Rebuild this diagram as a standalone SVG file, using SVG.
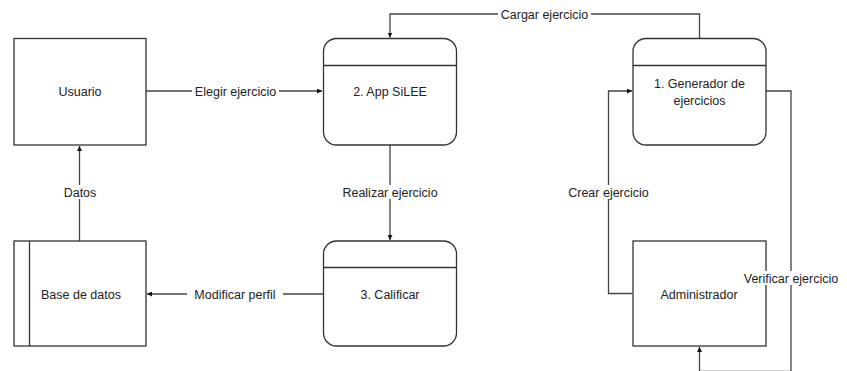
<svg xmlns="http://www.w3.org/2000/svg" width="847" height="371" viewBox="0 0 847 371">
<style>
.box{fill:#fff;stroke:#333;stroke-width:1.3}
.ln{fill:none;stroke:#444;stroke-width:1.3}
.t{font-family:"Liberation Sans",Arial,sans-serif;font-size:12.5px;fill:#222;text-anchor:middle}
.lb{font-family:"Liberation Sans",Arial,sans-serif;font-size:12.5px;fill:#222;text-anchor:middle}
.bg{fill:#fff}
</style>
<defs>
<marker id="ar" viewBox="0 0 10 10" refX="10" refY="5" markerWidth="5" markerHeight="5" markerUnits="userSpaceOnUse" orient="auto">
<path d="M0,0 L10,5 L0,10 z" fill="#111"/>
</marker>
</defs>
<rect width="847" height="371" fill="#fff"/>
<g id="connectors">
<path class="ln" d="M146,91 H322" marker-end="url(#ar)"/>
<path class="ln" d="M699.5,38 V14 H390 V37.5" marker-end="url(#ar)"/>
<path class="ln" d="M390,145 V240" marker-end="url(#ar)"/>
<path class="ln" d="M323,294 H147" marker-end="url(#ar)"/>
<path class="ln" d="M79.5,241 V146" marker-end="url(#ar)"/>
<path class="ln" d="M632.5,293.5 H608.5 V91 H632" marker-end="url(#ar)"/>
<path class="ln" d="M766,91 H791 V371.3 H699.5 V347" marker-end="url(#ar)"/>
</g>
<g id="usuario">
<rect class="box" x="14" y="38.5" width="132" height="106.5"/>
<text class="t" x="80" y="95.5">Usuario</text>
</g>
<g id="app">
<rect class="box" x="323.5" y="38.5" width="133" height="106.5" rx="13"/>
<line class="box" x1="323.5" y1="65.5" x2="456.5" y2="65.5"/>
<text class="t" x="390" y="95.5">2. App SiLEE</text>
</g>
<g id="generador">
<rect class="box" x="633" y="38.5" width="133" height="106.5" rx="13"/>
<line class="box" x1="633" y1="65.5" x2="766" y2="65.5"/>
<text class="t" x="699.5" y="87.5">1. Generador de</text>
<text class="t" x="699.5" y="104.5">ejercicios</text>
</g>
<g id="basedatos">
<rect class="box" x="14" y="241" width="132" height="105"/>
<line class="box" x1="29.5" y1="241" x2="29.5" y2="346"/>
<text class="t" x="81" y="298.5">Base de datos</text>
</g>
<g id="calificar">
<rect class="box" x="323.5" y="241" width="133" height="105" rx="13"/>
<line class="box" x1="323.5" y1="267.5" x2="456.5" y2="267.5"/>
<text class="t" x="390" y="298.5">3. Calificar</text>
</g>
<g id="administrador">
<rect class="box" x="633" y="241" width="133" height="105"/>
<text class="t" x="699" y="298.5">Administrador</text>
</g>
<g id="labels">
<rect class="bg" x="192" y="84" width="87" height="14"/>
<text class="lb" x="235.5" y="95.5">Elegir ejercicio</text>
<rect class="bg" x="498" y="7" width="93" height="14"/>
<text class="lb" x="544.5" y="18.5">Cargar ejercicio</text>
<rect class="bg" x="337" y="185" width="106" height="14"/>
<text class="lb" x="390" y="196.5">Realizar ejercicio</text>
<rect class="bg" x="187" y="287" width="96" height="14"/>
<text class="lb" x="235" y="298.5">Modificar perfil</text>
<rect class="bg" x="61" y="185" width="38" height="14"/>
<text class="lb" x="80" y="196.5">Datos</text>
<rect class="bg" x="563" y="185" width="91" height="14"/>
<text class="lb" x="608.5" y="196.5">Crear ejercicio</text>
<rect class="bg" x="737" y="271" width="108" height="14"/>
<text class="lb" x="791" y="282.5">Verificar ejercicio</text>
</g>
</svg>
